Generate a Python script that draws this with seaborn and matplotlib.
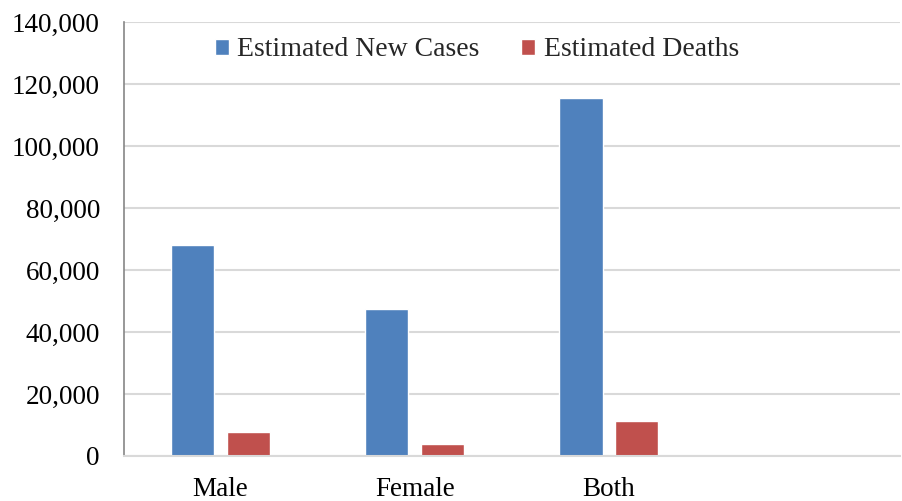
import pandas as pd
import numpy as np
import matplotlib
matplotlib.use('Agg')
import matplotlib.pyplot as plt
import seaborn as sns
from matplotlib.ticker import FuncFormatter

# 数据
categories = ['Male', 'Female', 'Both']
new_cases = [68100, 47300, 115400]
deaths = [7600, 3800, 11400]
series_names = ['Estimated New Cases', 'Estimated Deaths']
y_ticks = [0, 20000, 40000, 60000, 80000, 100000, 120000, 140000]

df = pd.DataFrame({
    'group': categories * 2,
    'value': new_cases + deaths,
    'series': [series_names[0]] * 3 + [series_names[1]] * 3,
})

sns.set_style('white')
plt.rcParams['font.family'] = ['Liberation Serif', 'DejaVu Serif']

fig = plt.figure(figsize=(9.02, 5.01), dpi=100)
ax = fig.add_axes([0.137, 0.09, 0.861, 0.866])

sns.barplot(data=df, x='group', y='value', hue='series', order=categories,
            hue_order=series_names, palette=['#4F81BD', '#C0504D'],
            width=0.576, gap=0.23, saturation=1, ax=ax, errorbar=None)

ax.set_xlim(-0.5, 3.5)
ax.set_ylim(0, 140000)
ax.set_yticks(y_ticks)
ax.yaxis.set_major_formatter(FuncFormatter(lambda v, p: f'{int(v):,}'))
ax.grid(axis='y', color='#d9d9d9', linewidth=1.5)
ax.set_axisbelow(True)
ax.set_xlabel('')
ax.set_ylabel('')

for s in ['top', 'right']:
    ax.spines[s].set_visible(False)
ax.spines['left'].set_color('#868686')
ax.spines['left'].set_linewidth(1.2)
ax.spines['bottom'].set_color('#d9d9d9')
ax.spines['bottom'].set_linewidth(1.5)

ax.tick_params(axis='y', length=0, pad=17, labelsize=19.5, colors='black')
ax.tick_params(axis='x', length=0, pad=15, labelsize=19.5, colors='black')

# 图例
leg = ax.legend(loc='upper center', bbox_to_anchor=(0.455, 1.022), ncol=2,
                frameon=False, fontsize=20, handlelength=0.5, handleheight=0.5,
                handletextpad=0.3, columnspacing=1.5)

plt.savefig('out.png', dpi=100)
